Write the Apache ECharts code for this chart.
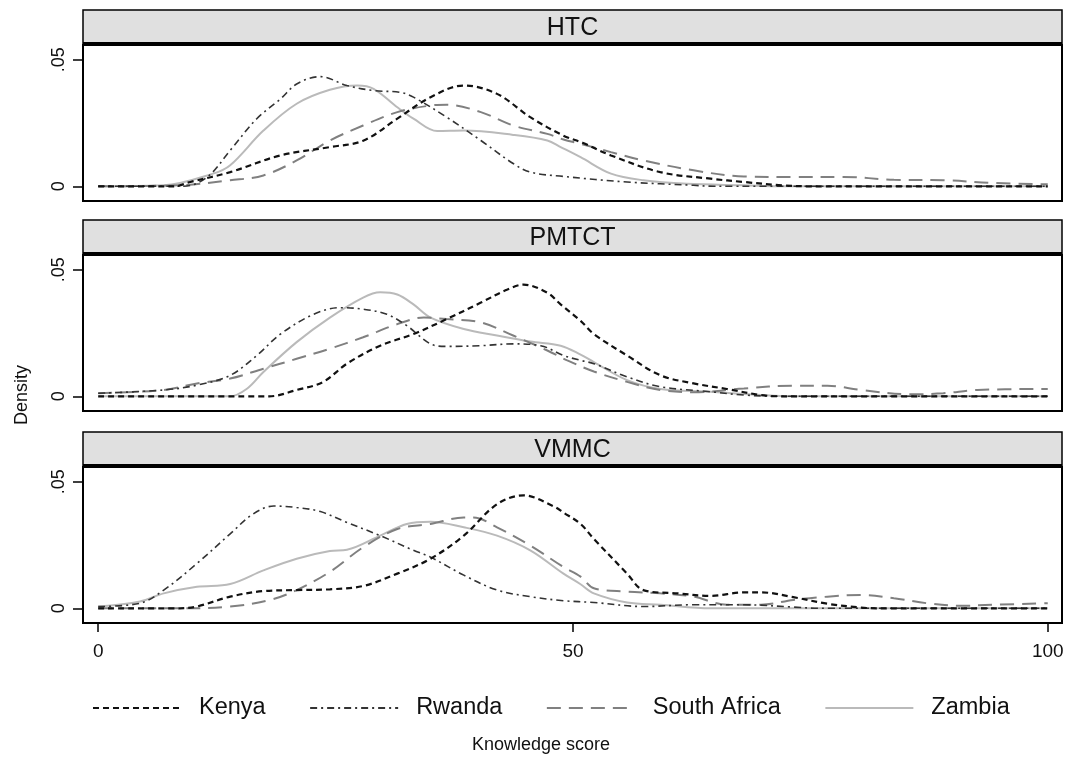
<!DOCTYPE html>
<html><head><meta charset="utf-8">
<script src="https://cdn.jsdelivr.net/npm/echarts@6/dist/echarts.min.js"></script>
<style>html,body{margin:0;padding:0;background:#fff}#c{width:1080px;height:757px}</style>
</head><body><div id="c"></div>
<script>
const panels = ['HTC', 'PMTCT', 'VMMC'];
const countries = ['Kenya', 'Rwanda', 'South Africa', 'Zambia'];
const xTicks = [0, 50, 100];
const yTicks = [0, 0.05];

// HTC
const htcKenya = [[0,0],[8,0],[9.7,0.0017],[13.9,0.0056],[19.2,0.0122],[24.4,0.0155],[27.9,0.018],[31.5,0.0267],[35,0.0352],[38.5,0.0398],[42,0.0365],[45.5,0.0273],[49,0.020],[51,0.0172],[54,0.0122],[59.2,0.0056],[64.5,0.003],[68,0.0017],[72,0.0004],[75,0],[100,0]];
const htcRwanda = [[0,0],[9,0],[11.5,0.0037],[13.9,0.0142],[16.7,0.0267],[19.2,0.0345],[20.9,0.0404],[23.4,0.0433],[26.2,0.0398],[29,0.0378],[31.8,0.0371],[33.2,0.0352],[36.7,0.0273],[40.3,0.0181],[43.7,0.009],[45.5,0.0056],[49,0.0039],[55.7,0.0017],[62.7,0.0004],[65,0],[100,0]];
const htcSouthAfrica = [[0,0],[8.6,0.0004],[13.9,0.0024],[17.4,0.0043],[20.9,0.0102],[24.4,0.0181],[27.9,0.024],[31.5,0.0293],[35,0.0319],[36.7,0.0322],[40.3,0.0293],[43.7,0.024],[47.3,0.0207],[49,0.0185],[50.8,0.0168],[54,0.0135],[57.4,0.0102],[62.7,0.0063],[68,0.0039],[73.2,0.0037],[78.5,0.0037],[83.8,0.0026],[89,0.0024],[94.3,0.0013],[100,0.0008]];
const htcZambia = [[0,0],[6.9,0.0004],[12.1,0.005],[13.9,0.0083],[17.4,0.022],[20.9,0.0326],[24.4,0.0381],[27.3,0.0398],[29,0.0385],[31.5,0.0312],[33.2,0.0267],[35.7,0.0218],[38.5,0.022],[43.7,0.0203],[47.3,0.0181],[48.7,0.0155],[50.8,0.0115],[54,0.005],[57.4,0.0024],[62,0.001],[68,0.0004],[72,0],[100,0]];

// PMTCT
const pmtctKenya = [[0,0],[18,0],[20.9,0.0025],[23.7,0.0057],[26.2,0.0129],[29.7,0.02],[33.2,0.0246],[36.7,0.0305],[40.3,0.037],[43.1,0.0422],[44.8,0.0441],[47.3,0.0409],[48.7,0.0363],[50.8,0.0298],[52.2,0.0246],[55.7,0.0161],[59.2,0.0083],[62.7,0.0051],[66.2,0.0029],[69.8,0.0005],[72,0],[100,0]];
const pmtctRwanda = [[0,0.0012],[6.9,0.0025],[10.4,0.0044],[13.9,0.0083],[16.7,0.0161],[19.2,0.0246],[22.7,0.0324],[25.5,0.035],[27.9,0.0344],[30.4,0.0324],[32.5,0.0279],[35,0.0207],[36.7,0.0197],[40.3,0.02],[43.7,0.0207],[46.6,0.02],[49,0.0161],[50.8,0.0142],[52.2,0.0129],[55.7,0.0077],[59.2,0.0038],[64.5,0.0018],[68,0.0005],[72,0],[100,0]];
const pmtctSouthAfrica = [[0,0.0012],[6.9,0.0025],[10.4,0.0051],[13.9,0.007],[17.4,0.0109],[20.9,0.0148],[24.4,0.0188],[27.9,0.0233],[31.5,0.0285],[34.3,0.0311],[36.7,0.0305],[40.3,0.0292],[43.7,0.024],[47.3,0.0181],[49.4,0.0142],[52.2,0.0098],[55.7,0.0057],[59.2,0.0025],[62.7,0.0016],[68,0.0031],[73.2,0.0042],[76.8,0.0042],[80.3,0.0025],[85.6,0.0008],[89,0.0012],[92.6,0.0025],[100,0.0029]];
const pmtctZambia = [[0,0],[13.9,0],[15.7,0.0031],[17.4,0.0096],[20.9,0.0214],[24.4,0.0311],[27.9,0.039],[29.7,0.0411],[31.5,0.0402],[33.2,0.0363],[35,0.0311],[38.5,0.0266],[42,0.024],[45.5,0.0216],[48.7,0.02],[50.8,0.0165],[52.2,0.0135],[55.7,0.0064],[59.2,0.0029],[64.5,0.0018],[69.8,0.0005],[73,0],[100,0]];

// VMMC
const vmmcKenya = [[0,0],[8.6,0],[10.4,0.0007],[13.9,0.0046],[17.4,0.0068],[20.9,0.0072],[24.4,0.0075],[27.9,0.0088],[31.5,0.0137],[35,0.0196],[38.5,0.0287],[42,0.0411],[44.8,0.0446],[47.9,0.0404],[49,0.0378],[50.8,0.0333],[52.2,0.0274],[55.7,0.0137],[57.4,0.0072],[61,0.0059],[64.5,0.0049],[68,0.0063],[69.8,0.0063],[73.2,0.0044],[76.8,0.0018],[80.3,0.0003],[82,0],[100,0]];
const vmmcRwanda = [[0,0.0007],[4.4,0.002],[6.9,0.0072],[10.4,0.0177],[13.9,0.0294],[16.3,0.0372],[18.5,0.0404],[20.9,0.0398],[23.4,0.0382],[26.2,0.0339],[29.7,0.0287],[33.2,0.0229],[35,0.0202],[38.5,0.0131],[42,0.0072],[45.5,0.0046],[49,0.003],[52.2,0.0023],[57.4,0.0007],[62.7,0.0014],[68,0.0014],[73.2,0.0005],[76,0],[100,0]];
const vmmcSouthAfrica = [[0,0],[8.6,0],[13.9,0.0007],[18.1,0.0033],[20.9,0.0072],[24.4,0.0144],[27.9,0.0241],[31.5,0.0313],[35,0.0333],[38.5,0.0359],[39.5,0.0359],[42,0.032],[45.5,0.0248],[49,0.0163],[50.8,0.0125],[52.2,0.0079],[55.7,0.0066],[59.2,0.0059],[62.7,0.0046],[66.2,0.0014],[69.8,0.0014],[73.2,0.0033],[76.8,0.0046],[80.3,0.0053],[83.8,0.004],[87.3,0.002],[90.8,0.001],[94.3,0.0014],[100,0.002]];
const vmmcZambia = [[0,0.0007],[4.4,0.0027],[6.9,0.0059],[10.4,0.0085],[13.9,0.0096],[17.4,0.015],[20.9,0.0196],[24.4,0.0226],[26.2,0.0231],[29.7,0.0287],[32.5,0.0333],[35,0.0342],[38.5,0.032],[42,0.0287],[45.5,0.0229],[49,0.0137],[50.8,0.0095],[52.2,0.0059],[55.7,0.0023],[59.2,0.0014],[64.5,0],[100,0]];

const panelData = [
  [htcKenya, htcRwanda, htcSouthAfrica, htcZambia],
  [pmtctKenya, pmtctRwanda, pmtctSouthAfrica, pmtctZambia],
  [vmmcKenya, vmmcRwanda, vmmcSouthAfrica, vmmcZambia]
];

const F = '"Liberation Sans", Arial, sans-serif';
const TXT = '#111';
const styles = [
  {color: '#111111', width: 2.2, type: [6, 4]},
  {color: '#333333', width: 1.6, type: [7, 4, 2, 4]},
  {color: '#808080', width: 2, type: [14, 8]},
  {color: '#bababa', width: 2, type: 'solid'}
];

const L = 83, W = 979, H = 156;
const tops = [45, 255, 467];
const stripH = 35;

const grids = [], xAxes = [], yAxes = [], series = [], graphics = [];
panels.forEach((p, i) => {
  grids.push({left: L, top: tops[i], width: W, height: H, show: true, borderColor: '#000', borderWidth: 2, backgroundColor: '#fff'});
  const last = i === panels.length - 1;
  xAxes.push({
    type: 'value', gridIndex: i, min: -1.6, max: 101.5,
    axisLine: {show: true, onZero: false, lineStyle: {color: '#000', width: 2}}, splitLine: {show: false},
    axisTick: {show: last, length: 9, customValues: xTicks, lineStyle: {color: '#000', width: 1.5}},
    axisLabel: {show: last, customValues: xTicks, margin: 19, fontSize: 19, color: TXT, fontFamily: F}
  });
  yAxes.push({
    type: 'value', gridIndex: i, min: -0.0058, max: 0.0558,
    axisLine: {show: true, onZero: false, lineStyle: {color: '#000', width: 2}}, splitLine: {show: false},
    axisTick: {show: true, length: 10, customValues: yTicks, lineStyle: {color: '#000', width: 1.5}},
    axisLabel: {show: true, customValues: yTicks, rotate: 90, margin: 15, fontSize: 18, color: TXT, fontFamily: F,
      formatter: v => v === 0 ? '0' : '.05'}
  });
  countries.forEach((c, j) => {
    series.push({
      name: c, type: 'line', xAxisIndex: i, yAxisIndex: i, data: panelData[i][j],
      symbol: 'none', smooth: 0.35, silent: true, z: 2 + (3 - j),
      lineStyle: styles[j], itemStyle: {color: styles[j].color}
    });
  });
  graphics.push({type: 'rect', z: 10, shape: {x: L, y: tops[i] - stripH, width: W, height: stripH},
    style: {fill: '#e0e0e0', stroke: '#000', lineWidth: 1.5}});
  graphics.push({type: 'rect', z: 11, shape: {x: L, y: tops[i] - 1.5, width: W, height: 0}, style: {fill: 'none', stroke: '#000', lineWidth: 3}});
  graphics.push({type: 'text', z: 12, x: L + W / 2, y: tops[i] - stripH / 2 + 1,
    style: {text: p, font: '25px ' + F, fill: TXT, align: 'center', verticalAlign: 'middle', textAlign: 'center', textVerticalAlign: 'middle'}});
});
graphics.push({type: 'text', z: 12, x: 22, y: 395, rotation: Math.PI / 2,
  style: {text: 'Density', font: '18px ' + F, fill: TXT, align: 'center', verticalAlign: 'middle', textAlign: 'center', textVerticalAlign: 'middle'}});
graphics.push({type: 'text', z: 12, x: 541, y: 745,
  style: {text: 'Knowledge score', font: '18px ' + F, fill: TXT, align: 'center', verticalAlign: 'middle', textAlign: 'center', textVerticalAlign: 'middle'}});

const chart = echarts.init(document.getElementById('c'), null, {renderer: 'canvas'});
chart.setOption({
  animation: false,
  backgroundColor: '#fff',
  grid: grids, xAxis: xAxes, yAxis: yAxes, series: series,
  graphic: graphics,
  legend: {
    data: countries, left: 87, top: 691, itemWidth: 88, itemHeight: 14, itemGap: 43.5,
    selectedMode: false, itemStyle: {opacity: 0},
    textStyle: {fontSize: 23.5, color: TXT, fontFamily: F, padding: [0, 0, 0, 13]}
  }
});
</script></body></html>
